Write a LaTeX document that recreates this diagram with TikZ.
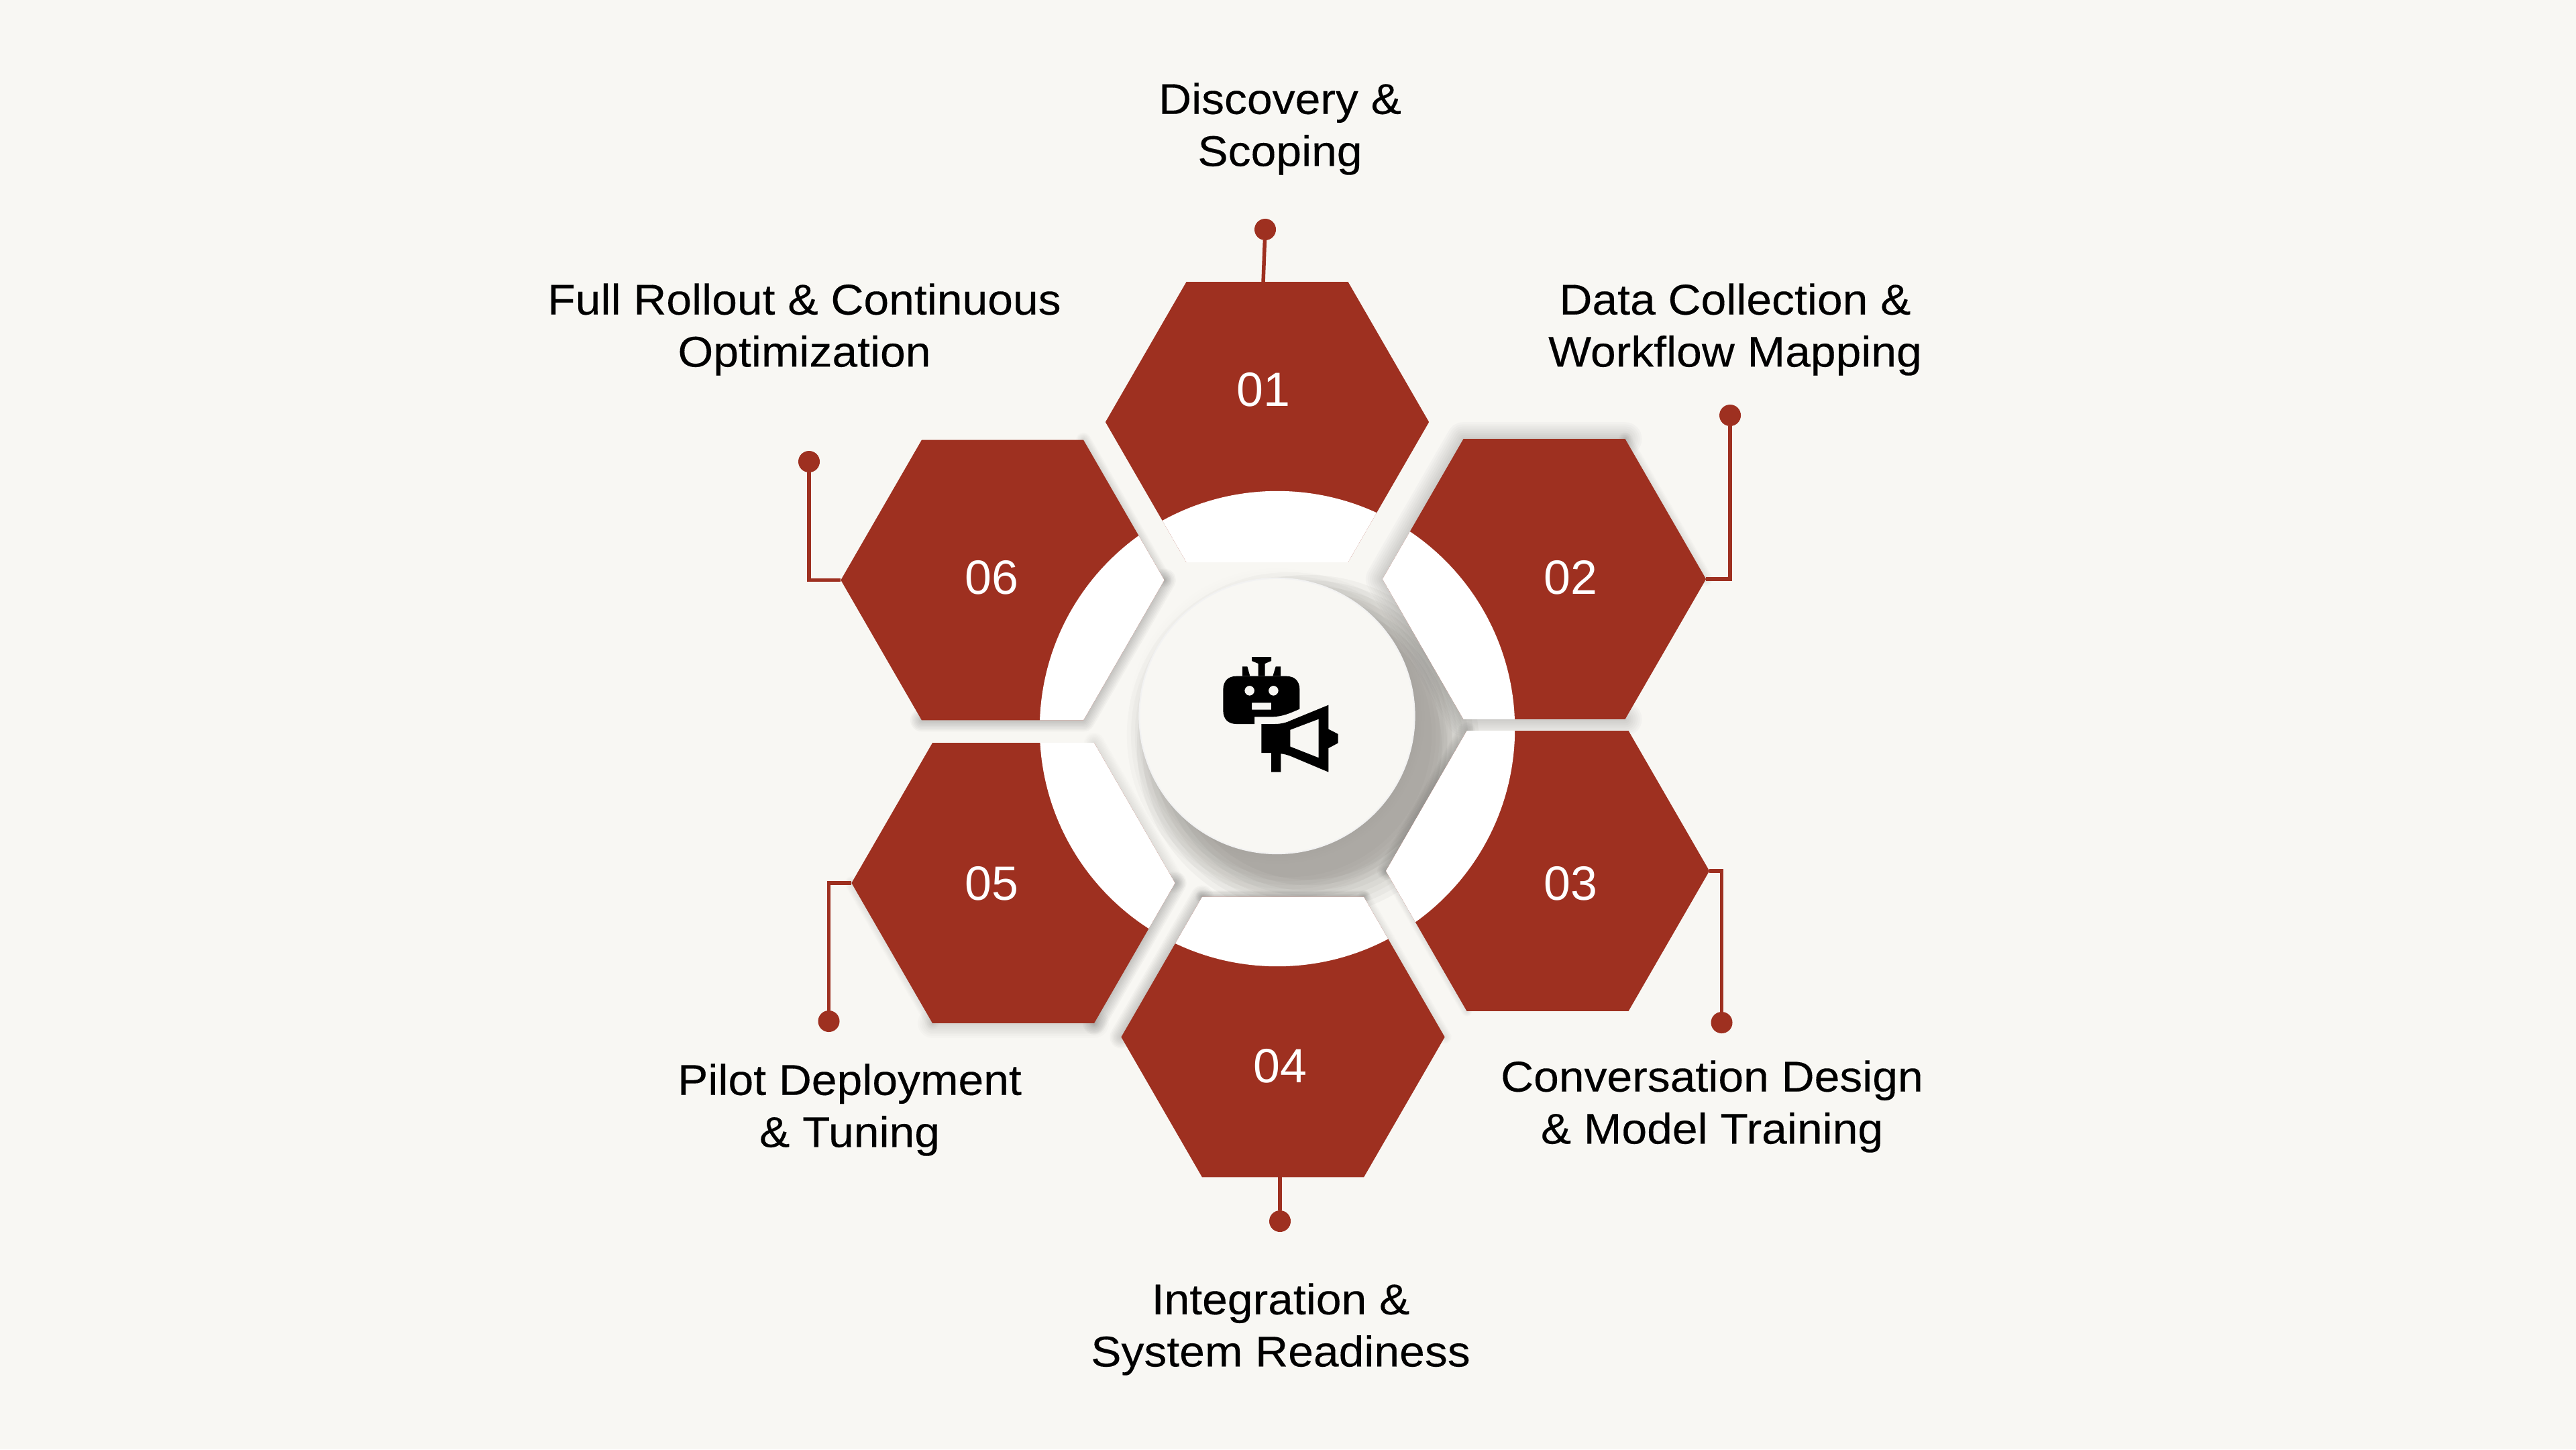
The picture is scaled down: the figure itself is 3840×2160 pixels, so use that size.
\documentclass[tikz,border=0pt]{standalone}
\usepackage{fontspec}
\setmainfont[FakeStretch=1.06,FakeBold=0.2]{Liberation Sans}
\newfontfamily\numfont[FakeStretch=1.0]{Liberation Sans}
\usetikzlibrary{shapes.geometric}
\usetikzlibrary{backgrounds}
\definecolor{paper}{HTML}{F8F7F3}
\definecolor{brick}{HTML}{9E3020}
\definecolor{warmgrey}{HTML}{4A4540}
\tikzset{
    hexnode/.style = {regular polygon, regular polygon sides=6, minimum size=4.82cm, inner sep=0pt, outer sep=0pt, fill=brick,
        path picture={\fill[white] (ringc) circle (3.54cm);}},
    hubnode/.style = {circle, minimum size=4.1cm, inner sep=0pt, outer sep=0pt, fill=paper, draw=black!5, line width=0.02cm},
    dotnode/.style = {circle, minimum size=0.32cm, inner sep=0pt, outer sep=0pt, fill=brick},
    numnode/.style = {text=white, inner sep=0pt, font=\numfont\fontsize{20.4}{24}\selectfont},
    labelnode/.style = {text=black, align=center, inner sep=0pt, font=\fontsize{18.2}{22.1}\selectfont},
    leader/.style = {draw=brick, line width=0.055cm},
    edgeshade/.style = {draw=black!75!paper, line join=round, line cap=round},
    hubshade/.style = {fill=warmgrey},
    iconfill/.style = {fill=black, even odd rule}
}
% stacked strokes for a soft shadow: opacity, widest stroke in cm, path
\newcommand{\softedge}[3]{%
  \foreach \n in {1,...,8}{
    \draw[edgeshade,opacity=#1,line width=\n*#2*0.125*1cm] #3;
  }%
}
\begin{document}
\begin{tikzpicture}[x=0.01cm,y=-0.01cm]
\useasboundingbox (0,0) rectangle (3840,2160);
\coordinate (ringc) at (1904,1086);
%
\node[hexnode] at (1889, 629) (hexa) {};
\node[hexnode] at (2302, 863) (hexb) {};
\node[hexnode] at (2307, 1298) (hexc) {};
\node[hexnode] at (1912.5, 1545.5) (hexd) {};
\node[hexnode] at (1510.5, 1316) (hexe) {};
\node[hexnode] at (1494.5, 864.5) (hexf) {};
\node[hubnode] at (1903.5, 1067) (hub) {};
%
\node[numnode] at (1883, 581) (numa) {01};
\node[numnode] at (2341, 861) (numb) {02};
\node[numnode] at (2341, 1317) (numc) {03};
\node[numnode] at (1908, 1589) (numd) {04};
\node[numnode] at (1478, 1317) (nume) {05};
\node[numnode] at (1478, 861) (numf) {06};
%
\node[dotnode] at (1886, 342) (dota) {};
\node[dotnode] at (2579, 619) (dotb) {};
\node[dotnode] at (2566.5, 1524) (dotc) {};
\node[dotnode] at (1908, 1820) (dotd) {};
\node[dotnode] at (1235.5, 1522) (dote) {};
\node[dotnode] at (1206, 688) (dotf) {};
\coordinate (enda) at (1883, 421);
\coordinate (endd) at (1908, 1753);
%
\draw[leader] (dota) -- (enda);
\draw[leader] (dotb) |- (hexb.east);
\draw[leader] (dotc) |- (hexc.east);
\draw[leader] (dotd) -- (endd);
\draw[leader] (dote) |- (hexe.west);
\draw[leader] (dotf) |- (hexf.west);
%
\node[labelnode] at (1908, 192) (laba) {Discovery \&\\Scoping};
\node[labelnode] at (2586.5, 491) (labb) {Data Collection \&\\Workflow Mapping};
\node[labelnode] at (2552, 1649) (labc) {Conversation Design\\\& Model Training};
\node[labelnode] at (1909, 1981) (labd) {Integration \&\\System Readiness};
\node[labelnode] at (1266.5, 1654) (labe) {Pilot Deployment\\\& Tuning};
\node[labelnode] at (1199, 491) (labf) {Full Rollout \& Continuous\\Optimization};
%
\begin{scope}[on background layer]
\fill[paper] (0,0) rectangle (3840,2160);
% hub shadow
\foreach \r in {2.55,2.47,2.39,2.31,2.23,2.15,2.07,1.99}{
  \fill[hubshade,opacity=0.042] (1950,1112) circle (\r cm);
}
\foreach \r in {2.42,2.36,2.30,2.24,2.18,2.12}{
  \fill[hubshade,opacity=0.028] (1922,1095) circle (\r cm);
}
\foreach \r in {2.2,2.16,2.12,2.08}{
  \fill[black,opacity=0.005] (hub) circle (\r cm);
}
% hexagon shadows
\softedge{0.028}{0.5}{(hexb.corner 5) -- (hexb.corner 4) -- (hexb.corner 3) -- (hexb.corner 2) -- (hexb.corner 1)}
\softedge{0.015}{0.2}{(hexb.corner 1) -- (hexb.corner 6)}
\softedge{0.035}{0.34}{(hexf.corner 6) -- (hexf.corner 5) -- (hexf.corner 4)}
\softedge{0.02}{0.22}{(hexf.corner 1) -- (hexf.corner 6)}
\softedge{0.035}{0.34}{(hexe.corner 6) -- (hexe.corner 5)}
\softedge{0.02}{0.44}{(hexe.corner 5) -- (hexe.corner 4)}
\softedge{0.012}{0.2}{(hexe.corner 4) -- (hexe.corner 3)}
\softedge{0.015}{0.3}{(hexe.corner 6) -- (hexe.corner 1)}
\softedge{0.03}{0.34}{(hexd.corner 3) -- (hexd.corner 2)}
\softedge{0.015}{0.2}{(hexd.corner 1) -- (hexd.corner 6)}
\softedge{0.03}{0.26}{(hexc.corner 2) -- (hexc.corner 3)}
\softedge{0.012}{0.16}{(hexc.corner 3) -- (hexc.corner 4)}
\softedge{0.03}{0.2}{(hexd.corner 2) -- (hexd.corner 1)}
\end{scope}
%
\begin{scope}[shift={(1780,960)},x=0.01cm/3,y=-0.01cm/3]
\fill[iconfill] (258,57) -- (345,57) -- (345,75) -- (317,87) -- (317,143) -- (287,143) -- (287,87) -- (258,75) -- cycle;
\fill[iconfill] (216,100) -- (238,100) -- (250,143) -- (216,143) -- cycle;
\fill[iconfill] (365,100) -- (387,100) -- (387,143) -- (352,143) -- cycle;
\fill[iconfill] (190,143) -- (412,143) .. controls (450,143) and (472,165) .. (472,203) -- (472,290)
  .. controls (430,308) and (395,325) .. (345,325) -- (270,325) -- (270,357) -- (190,357)
  .. controls (152,357) and (130,335) .. (130,297) -- (130,203) .. controls (130,165) and (152,143) .. (190,143) -- cycle
  (248,208) circle (22) (355,208) circle (22)
  (258,262) rectangle (345,293);
\fill[iconfill] (301,357) -- (360,357) .. controls (390,357) and (415,350) .. (435,340) -- (601,272) -- (601,380) -- (644,402) -- (644,442) -- (601,465) -- (601,572) -- (430,500)
  .. controls (415,495) and (400,490) .. (388,490) -- (388,572) -- (345,572) -- (345,486) -- (301,486) -- cycle
  (430,383) -- (557,335) -- (557,508) -- (430,458) -- cycle;
\end{scope}
\end{tikzpicture}
\end{document}
